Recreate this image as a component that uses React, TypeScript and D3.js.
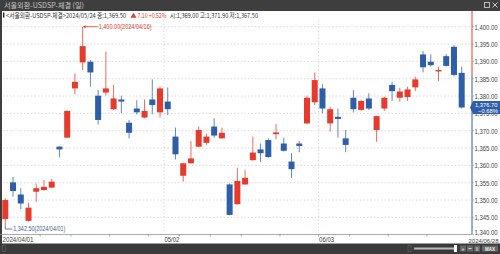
import React from "react";
import * as d3 from "d3";

const dates: string[] = [
  "2024/04/01","2024/04/02","2024/04/03","2024/04/04","2024/04/05","2024/04/08","2024/04/09","2024/04/11","2024/04/12","2024/04/15",
  "2024/04/16","2024/04/17","2024/04/18","2024/04/19","2024/04/22","2024/04/23","2024/04/24","2024/04/25","2024/04/26","2024/04/29",
  "2024/04/30","2024/05/02","2024/05/03","2024/05/07","2024/05/08","2024/05/09","2024/05/10","2024/05/13","2024/05/14","2024/05/16",
  "2024/05/17","2024/05/20","2024/05/21","2024/05/22","2024/05/23","2024/05/24","2024/05/27","2024/05/28","2024/05/29","2024/05/30",
  "2024/05/31","2024/06/03","2024/06/04","2024/06/05","2024/06/07","2024/06/10","2024/06/11","2024/06/12","2024/06/13","2024/06/14",
  "2024/06/17","2024/06/18","2024/06/19","2024/06/20","2024/06/21","2024/06/24","2024/06/25","2024/06/26","2024/06/27","2024/06/28",
];
const opens: number[] = [
  1344.5,1355.1,1351.6,1344.0,1352.4,1352.9,1353.6,1365.4,1368.0,1382.2,
  1389.7,1389.9,1380.1,1381.0,1376.2,1379.0,1372.3,1376.4,1373.8,1379.0,
  1375.3,1378.4,1368.3,1357.0,1360.6,1365.4,1366.5,1371.2,1367.8,1354.5,
  1348.8,1354.5,1361.5,1364.6,1367.3,1369.0,1366.3,1361.1,1366.3,1372.1,
  1378.2,1382.2,1372.1,1374.0,1367.8,1379.5,1376.0,1379.3,1370.2,1376.4,
  1383.2,1379.5,1379.7,1382.5,1392.0,1389.9,1387.1,1391.5,1394.2,1386.7,
];
const highs: number[] = [
  1350.5,1356.7,1353.4,1349.2,1354.8,1355.8,1356.1,1365.5,1375.8,1386.5,
  1400.0,1390.4,1381.7,1392.8,1383.2,1380.1,1373.1,1378.8,1379.0,1384.8,
  1382.7,1382.5,1370.9,1360.7,1367.0,1371.2,1369.2,1373.6,1370.9,1354.8,
  1359.3,1358.7,1368.3,1366.3,1367.8,1371.9,1368.0,1363.5,1367.0,1380.1,
  1386.8,1383.4,1376.9,1376.4,1370.2,1381.7,1378.8,1380.8,1374.3,1379.8,
  1384.1,1382.4,1382.7,1385.6,1393.0,1392.0,1388.5,1392.1,1394.7,1388.5,
];
const lows: number[] = [
  1342.5,1351.0,1347.4,1343.8,1349.5,1352.7,1353.5,1362.3,1367.9,1380.5,
  1387.5,1382.7,1371.8,1380.1,1376.0,1375.0,1367.8,1374.7,1373.6,1374.7,
  1373.8,1374.5,1361.7,1355.3,1360.5,1365.2,1365.9,1368.0,1367.7,1345.6,
  1348.7,1354.4,1361.4,1360.9,1362.2,1367.5,1364.0,1356.3,1363.8,1372.0,
  1377.4,1375.0,1369.7,1368.0,1363.8,1375.3,1375.7,1376.0,1366.8,1375.7,
  1378.6,1378.4,1378.6,1381.4,1386.8,1388.5,1384.3,1388.5,1385.6,1376.4,
];
const closes: number[] = [
  1350.0,1352.6,1349.0,1347.8,1353.4,1353.8,1355.3,1364.6,1375.7,1384.1,
  1394.4,1386.8,1373.1,1382.2,1379.3,1378.4,1369.4,1375.3,1375.7,1377.4,
  1382.2,1376.2,1363.2,1360.6,1362.0,1370.2,1368.3,1368.6,1369.4,1345.7,
  1355.5,1356.4,1363.7,1363.5,1362.4,1369.5,1364.2,1358.9,1365.6,1379.5,
  1384.6,1376.4,1376.2,1373.4,1365.9,1376.2,1378.6,1376.4,1374.2,1379.5,
  1381.4,1381.3,1381.9,1384.8,1388.3,1388.9,1387.5,1388.7,1386.1,1376.7,
];
const yTicks: number[] = [1340, 1345, 1350, 1355, 1360, 1365, 1370, 1375, 1380, 1385, 1390, 1395, 1400];
const titleText = "서울외환-USDSP-체결 (일)";
const infoName = "<서울외환-USDSP-체결>";
const infoIndex = 35;

const RED = "#e53a2c";
const BLUE = "#2f5ea9";
const FONT = "'Noto Sans CJK KR', 'Liberation Sans', sans-serif";
const NUMFONT = "'Liberation Sans', 'DejaVu Sans', sans-serif";

export default function App() {
  const W = 500, H = 254;
  const axisX = 472;
  const x = d3.scaleLinear().domain([0, dates.length - 1]).range([5.3, 461.7]);
  const step = x(1) - x(0);
  const y = d3.scaleLinear().domain([1340, 1400]).range([234.7, 26.7]);
  const fmt = d3.format(",.2f");
  const bodyW = 6;

  const n = dates.length;
  const last = n - 1;
  const lastC = closes[last];
  const prevC = closes[last - 1];
  const pct = ((lastC - prevC) / prevC) * 100;

  const monthStarts: number[] = [];
  for (let i = 1; i < n; i++) {
    if (dates[i].slice(5, 7) !== dates[i - 1].slice(5, 7)) monthStarts.push(i);
  }
  const toDate = (s: string) => new Date(+s.slice(0, 4), +s.slice(5, 7) - 1, +s.slice(8, 10));
  const weekStarts: number[] = [];
  for (let i = 1; i < n; i++) {
    const a = toDate(dates[i - 1]), b = toDate(dates[i]);
    if (b.getDay() <= a.getDay() || (b.getTime() - a.getTime()) > 6 * 864e5) weekStarts.push(i);
  }

  const hiIdx = highs.indexOf(d3.max(highs) as number);
  const loIdx = lows.indexOf(d3.min(lows) as number);

  const ic = infoIndex;
  const chg = closes[ic] - closes[ic - 1];
  const chgPct = (chg / closes[ic - 1]) * 100;

  return (
    <div style={{ position: "fixed", left: 0, top: 0, width: W, height: H }}>
      <svg width={W} height={H} style={{ display: "block" }}>
        <rect x={0} y={0} width={W} height={H} fill="#fff" />
        {/* title bar */}
        <rect x={0} y={0} width={W} height={11} fill="#3e3e3e" />
        <text x={4} y={8.2} fontSize={7} fill="#c9c9c9" fontFamily={FONT} textLength={80} lengthAdjust="spacingAndGlyphs">{titleText}</text>
        <rect x={484.5} y={2.5} width={5} height={5} fill="none" stroke="#c9c9c9" strokeWidth={0.9} />
        <path d="M492.5,2.5 L497.5,7.5 M497.5,2.5 L492.5,7.5" stroke="#c9c9c9" strokeWidth={1} />
        {/* left border */}
        <rect x={0} y={11} width={2} height={233} fill="#3e3e3e" />

        {/* gridlines */}
        {yTicks.map((t) => (
          <line key={"g" + t} x1={3} x2={axisX} y1={y(t)} y2={y(t)} stroke="#cfcfcf" strokeWidth={0.8} strokeDasharray="1.5,2" />
        ))}
        {monthStarts.map((i) => (
          <line key={"m" + i} x1={x(i) - step / 2} x2={x(i) - step / 2} y1={20} y2={234} stroke="#cfcfcf" strokeWidth={0.8} strokeDasharray="1.5,2" />
        ))}

        {/* info row */}
        <rect x={3} y={12.5} width={1.4} height={5} fill="#222" />
        <text x={6} y={18} fontSize={6.5} fill="#333" fontFamily={FONT} textLength={120} lengthAdjust="spacingAndGlyphs">
          {infoName + dates[ic] + " 종:" + fmt(closes[ic])}
        </text>
        <path d={chg >= 0 ? "M130.5,17.8 L133.5,12.8 L136.5,17.8 Z" : "M130.5,12.8 L133.5,17.8 L136.5,12.8 Z"} fill={RED} />
        <text x={137.5} y={18} fontSize={6.5} fill={RED} fontFamily={FONT} textLength={29} lengthAdjust="spacingAndGlyphs">
          {d3.format(".2f")(Math.abs(chg)) + " " + (chgPct >= 0 ? "+" : "") + d3.format(".2f")(chgPct) + "%"}
        </text>
        <text x={170} y={18} fontSize={6.5} fill="#333" fontFamily={FONT} textLength={88} lengthAdjust="spacingAndGlyphs">
          {"시:" + fmt(opens[ic]) + " 고:" + fmt(highs[ic]) + " 저:" + fmt(lows[ic])}
        </text>

        {/* candles */}
        {dates.map((d, i) => {
          const up = closes[i] >= opens[i];
          const c = up ? RED : BLUE;
          const top = y(Math.max(opens[i], closes[i]));
          const bot = y(Math.min(opens[i], closes[i]));
          const cx = x(i);
          return (
            <g key={d}>
              <line x1={cx} x2={cx} y1={y(highs[i])} y2={y(lows[i])} stroke={c} strokeOpacity={0.75} strokeWidth={1} />
              <rect x={cx - bodyW / 2} y={top} width={bodyW} height={Math.max(1.2, bot - top)} fill={c} />
            </g>
          );
        })}

        {/* high annotation */}
        <path d={`M${x(hiIdx) + 1},${y(highs[hiIdx])} L${x(hiIdx) + 15},${y(highs[hiIdx])}`} stroke={RED} strokeWidth={0.8} />
        <path d={`M${x(hiIdx) + 0.5},${y(highs[hiIdx])} l2.5,-1.5 l0,3 z`} fill={RED} />
        <text x={x(hiIdx) + 16} y={y(highs[hiIdx]) + 2.2} fontSize={6.3} fill={RED} fontFamily={NUMFONT} textLength={53} lengthAdjust="spacingAndGlyphs">
          {fmt(highs[hiIdx]) + "(" + dates[hiIdx] + ")"}
        </text>
        {/* low annotation */}
        <path d={`M${x(loIdx)},${y(lows[loIdx])} L${x(loIdx)},${y(lows[loIdx]) + 3} L${x(loIdx) + 7},${y(lows[loIdx]) + 3}`} fill="none" stroke="#4a5d94" strokeWidth={0.8} />
        <text x={x(loIdx) + 8} y={y(lows[loIdx]) + 5.2} fontSize={6.3} fill="#4a5d94" fontFamily={NUMFONT} textLength={52} lengthAdjust="spacingAndGlyphs">
          {fmt(lows[loIdx]) + "(" + dates[loIdx] + ")"}
        </text>

        {/* right axis */}
        <line x1={axisX} x2={axisX} y1={11} y2={y(prevC)} stroke={RED} strokeWidth={1} />
        <line x1={axisX} x2={axisX} y1={y(prevC)} y2={234} stroke={BLUE} strokeWidth={1} />
        {yTicks.map((t) => (
          <g key={"t" + t}>
            <line x1={axisX} x2={axisX + 2} y1={y(t)} y2={y(t)} stroke="#888" strokeWidth={0.6} />
            <text x={axisX + 2.5} y={Math.min(y(t) + 2.8, 235.2)} fontSize={6.3} fill="#444" fontFamily={NUMFONT} textLength={23} lengthAdjust="spacingAndGlyphs">{fmt(t)}</text>
          </g>
        ))}
        {/* current price box */}
        <path d={`M${axisX - 2},${y(lastC)} L${axisX + 1},${y(lastC) - 6.5} L${W},${y(lastC) - 6.5} L${W},${y(lastC) + 6.5} L${axisX + 1},${y(lastC) + 6.5} Z`} fill={BLUE} />
        <text x={axisX + 3} y={y(lastC) - 0.8} fontSize={5.8} fill="#fff" fontFamily={NUMFONT}>{fmt(lastC)}</text>
        <text x={axisX + 6} y={y(lastC) + 5.4} fontSize={5.8} fill="#fff" fontFamily={NUMFONT}>{d3.format(".2f")(pct) + "%"}</text>

        {/* x axis */}
        <line x1={0} x2={axisX} y1={234.5} y2={234.5} stroke="#999" strokeWidth={0.8} />
        {weekStarts.map((i) => (
          <line key={"w" + i} x1={x(i) - step / 2} x2={x(i) - step / 2} y1={234.5} y2={236.5} stroke="#888" strokeWidth={0.7} />
        ))}
        <text x={2.5} y={242} fontSize={6.3} fill="#444" fontFamily={NUMFONT} textLength={31} lengthAdjust="spacingAndGlyphs">{dates[0]}</text>
        {monthStarts.map((i) => (
          <text key={"ml" + i} x={x(i) - step / 2 + 0.5} y={242} fontSize={6.3} fill="#444" fontFamily={NUMFONT} textLength={15} lengthAdjust="spacingAndGlyphs">{dates[i].slice(5)}</text>
        ))}
        <text x={498.5} y={242.6} fontSize={6} fill="#444" fontFamily={NUMFONT} textAnchor="end" textLength={30} lengthAdjust="spacingAndGlyphs">{dates[last]}</text>

        {/* bottom bar */}
        <rect x={0} y={243.5} width={W} height={10.5} fill="#3a3a3a" />
        <rect x={2.5} y={245.5} width={3} height={6} fill="none" stroke="#666" strokeWidth={0.6} />
        <rect x={408} y={245.5} width={3} height={6} fill="none" stroke="#666" strokeWidth={0.6} />
        <rect x={414} y={247.5} width={41} height={2} fill="#bbb" />
        <rect x={454} y={245} width={3} height={7} fill="#fff" />
        <rect x={460} y={245.5} width={6} height={6} fill="#666" />
        <text x={463} y={250.8} fontSize={5} fill="#eee" textAnchor="middle" fontFamily={NUMFONT}>+</text>
        <rect x={467} y={245.5} width={6} height={6} fill="#666" />
        <line x1={468.5} x2={471.5} y1={248.5} y2={248.5} stroke="#eee" strokeWidth={0.8} />
        <rect x={474} y={245.5} width={6} height={6} fill="#666" />
        <text x={477} y={250.5} fontSize={4.5} fill="#eee" textAnchor="middle" fontFamily={NUMFONT}>II</text>
        <rect x={482} y={245.5} width={16} height={6} fill="#666" />
        <text x={490} y={250.5} fontSize={4.5} fill="#eee" textAnchor="middle" fontFamily={NUMFONT} fontWeight="bold">MAX</text>
      </svg>
    </div>
  );
}
